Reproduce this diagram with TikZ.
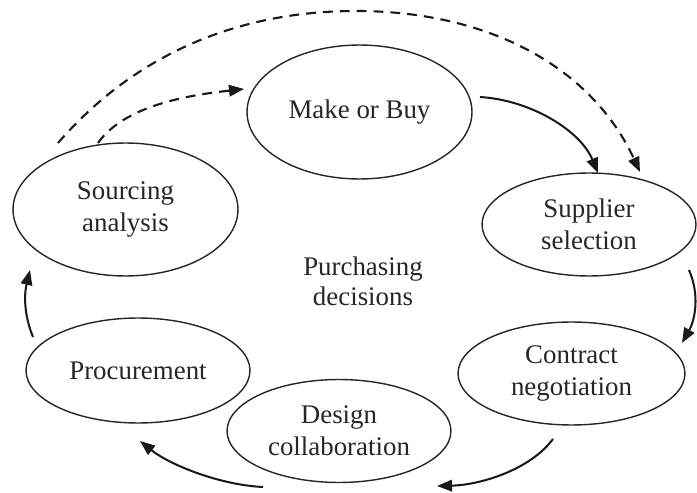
\documentclass[tikz,border=0pt]{standalone}
\usepackage{fontspec}
\setmainfont{Liberation Serif}
\usetikzlibrary{shapes.geometric,arrows.meta}
\tikzset{
  oval/.style={ellipse, draw=black!85, line width=0.8pt, inner sep=0pt, outer sep=0pt,
    align=center, font=\fontsize{15.3}{18.1}\selectfont, text=black!85},
  flow/.style={line width=1.15pt, draw=black!90, -{Triangle[length=0.3cm,width=0.23cm]}},
  dashflow/.style={flow, line width=1.2pt, dash pattern=on 5.6pt off 4pt},
}
\begin{document}
\begin{tikzpicture}[x=0.02cm,y=-0.02cm]
\useasboundingbox (0,0) rectangle (697,493);
\node[oval, minimum width=4.5cm, minimum height=2.68cm] (make) at (359.5,112) {Make or Buy};
\node[oval, minimum width=4.5cm, minimum height=2.66cm] (sourcing) at (125.5,209.5) {Sourcing\\analysis};
\node[oval, minimum width=4.28cm, minimum height=2.06cm] (supplier) at (589,224.5) {Supplier\\selection};
\node[oval, minimum width=4.54cm, minimum height=2.06cm] (contract) at (571.5,373.5) {Contract\\negotiation};
\node[oval, minimum width=4.48cm, minimum height=2.06cm] (design) at (339,431) {Design\\collaboration};
\node[oval, minimum width=4.48cm, minimum height=2.1cm] (procure) at (138,370.5) {Procurement};
\node[align=center, font=\fontsize{15.3}{17}\selectfont, text=black!85] (purch) at (363,281) {Purchasing\\decisions};

% connector end points (just off the ellipses)
\coordinate (sA) at (58,143);
\coordinate (sB) at (98,143);
\coordinate (mIn) at (244,89);
\coordinate (mOut) at (480,97);
\coordinate (supIn1) at (598,173);
\coordinate (supIn2) at (640,172);
\coordinate (supOut) at (689,270);
\coordinate (conIn) at (682,343);
\coordinate (conOut) at (553,439);
\coordinate (desIn) at (437,486);
\coordinate (desOut) at (263,487);
\coordinate (proIn) at (140,441);
\coordinate (proOut) at (33,337);
\coordinate (souIn) at (30,270);

\draw[dashflow] (sA) .. controls (130,60) and (230,11) .. (356,11)
                     .. controls (490,11) and (592,68) .. (supIn2);
\draw[dashflow] (sB) .. controls (125,105) and (190,95) .. (mIn);
\draw[flow] (mOut) .. controls (530,100) and (580,130) .. (supIn1);
\draw[flow] (supOut) .. controls (700,295) and (695,320) .. (conIn);
\draw[flow] (conOut) .. controls (530,470) and (480,485) .. (desIn);
\draw[flow] (desOut) .. controls (220,485) and (170,465) .. (proIn);
\draw[flow] (proOut) .. controls (24,315) and (24,295) .. (souIn);
\end{tikzpicture}
\end{document}
